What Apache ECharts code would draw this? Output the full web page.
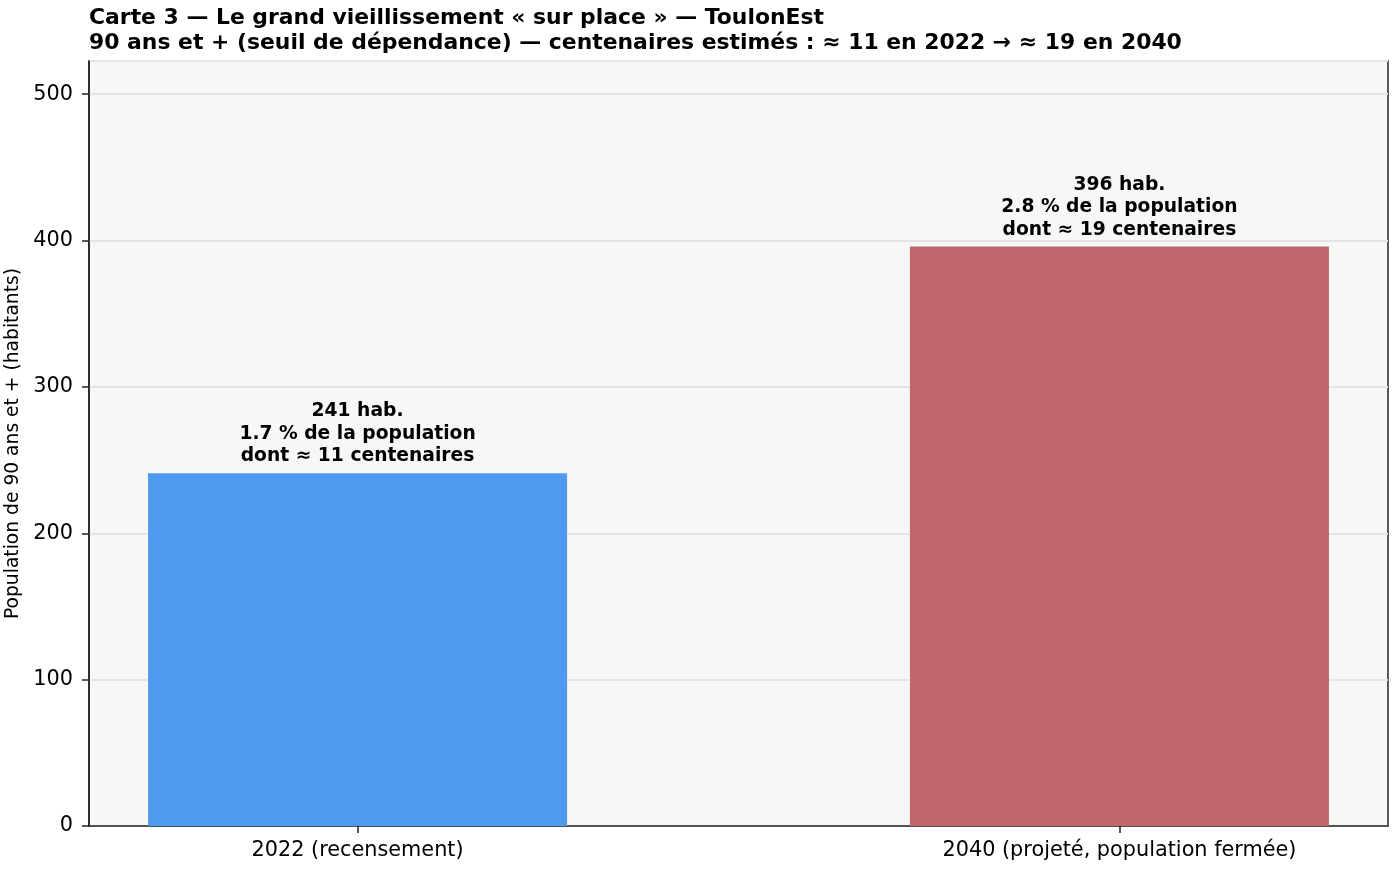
<!DOCTYPE html>
<html lang="fr">
<head>
    <meta charset="UTF-8">
    <title>Carte 3</title>
    <style>
        * { margin: 0; padding: 0; }
        html, body { height: 100%; width: 100%; background: #fff; }
    </style>
    <script src="https://cdn.jsdelivr.net/npm/echarts@6/dist/echarts.min.js"></script>
</head>
<body>
<div id="main" style="width: 1395px;height: 870px;"></div>
<script>
    // données
    var categories = ['2022 (recensement)', '2040 (projeté, population fermée)'];
    var population = [241, 396];
    var partPop = [1.7, 2.8];
    var centenaires = [11, 19];
    var barColors = ['#4f9aef', '#c0676b'];
    var yTicks = [0, 100, 200, 300, 400, 500];

    var font = 'DejaVu Sans';
    var gridLeft = 89, gridRight = 7;
    var xMin = -0.3525, xMax = 1.3525;
    var plotW = 1395 - gridLeft - gridRight;
    var barW = 0.55 / (xMax - xMin) * plotW;

    var myChart = echarts.init(document.getElementById('main'));

    var option = {
        animation: false,
        textStyle: { fontFamily: font },
        title: {
            text: 'Carte 3 — Le grand vieillissement « sur place » — ToulonEst\n90 ans et + (seuil de dépendance) — centenaires estimés : ≈ 11 en 2022 → ≈ 19 en 2040',
            left: 84,
            top: 1,
            textStyle: { fontFamily: font, fontWeight: 'bold', fontSize: 21.9, lineHeight: 25, color: '#000' }
        },
        grid: {
            left: gridLeft, right: gridRight, top: 61, bottom: 44,
            outerBoundsMode: 'none',
            containLabel: false,
            show: true,
            backgroundColor: '#f7f7f7',
            borderColor: '#222',
            borderWidth: 1.5
        },
        xAxis: {
            type: 'value',
            min: xMin,
            max: xMax,
            splitLine: { show: false },
            axisLine: { show: true, onZero: false, lineStyle: { color: '#222', width: 1.5 } },
            axisTick: { show: true, customValues: [0, 1], length: 7, lineStyle: { color: '#222', width: 1.5 } },
            axisLabel: {
                customValues: [0, 1],
                formatter: function (v) { return categories[Math.round(v)]; },
                fontFamily: font, fontSize: 20.8, color: '#000', margin: 14
            }
        },
        yAxis: {
            type: 'value',
            min: 0,
            max: 522.7,
            interval: 100,
            name: 'Population de 90 ans et + (habitants)',
            nameLocation: 'middle',
            nameRotate: 90,
            nameGap: 61,
            nameTextStyle: { fontFamily: font, fontSize: 18.7, color: '#000' },
            axisLine: { show: true, onZero: false, lineStyle: { color: '#222', width: 1.5 } },
            axisTick: { show: true, length: 7, lineStyle: { color: '#222', width: 1.5 } },
            axisLabel: {
                showMaxLabel: false,
                fontFamily: font, fontSize: 20.8, color: '#000', margin: 16,
                padding: [3, 0, 0, 0],
                formatter: function (v) { return yTicks.indexOf(v) >= 0 ? String(v) : ''; }
            },
            splitLine: { show: true, lineStyle: { color: '#e4e4e4', width: 2 } }
        },
        series: [{
            type: 'bar',
            barWidth: barW,
            data: population.map(function (v, i) {
                return { value: [i, v], itemStyle: { color: barColors[i] } };
            }),
            label: {
                show: true,
                position: 'top',
                distance: 5.5,
                fontFamily: font,
                fontWeight: 'bold',
                fontSize: 18.7,
                lineHeight: 22.5,
                color: '#000',
                align: 'center',
                formatter: function (p) {
                    var i = p.dataIndex;
                    return population[i] + ' hab.\n' + partPop[i].toFixed(1) + ' % de la population\ndont ≈ ' + centenaires[i] + ' centenaires';
                }
            }
        }]
    };
    myChart.setOption(option);
</script>
</body>
</html>
